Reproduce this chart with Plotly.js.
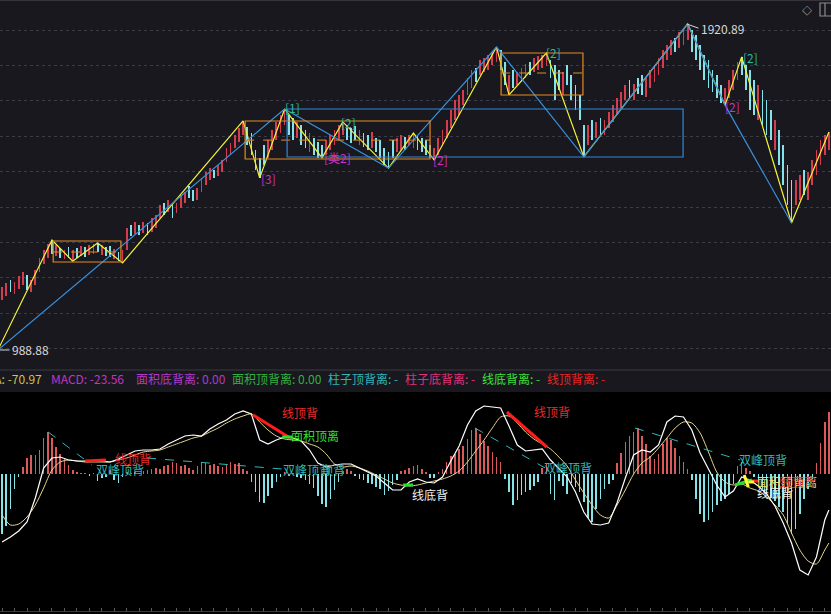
<!DOCTYPE html>
<html><head><meta charset="utf-8">
<script src="https://cdn.plot.ly/plotly-3.0.1.min.js"></script>
<style>html,body{margin:0;padding:0;background:#18181e;}#chart{width:831px;height:614px;}</style>
</head><body><div id="chart"></div>
<script>
// ---- price bars (index 0..199) ----
const hi = [1169,1180,1189,1183,1200,1212,1203,1189,1218,1252,
1275,1292,1303,1289,1280,1275,1283,1275,1280,1286,
1283,1289,1292,1295,1289,1283,1286,1278,1269,1275,
1338,1346,1355,1346,1355,1352,1366,1375,1403,1409,
1418,1403,1409,1432,1441,1458,1446,1452,1481,1498,
1509,1504,1518,1532,1566,1581,1604,1624,1644,1626,
1609,1561,1538,1575,1589,1618,1641,1661,1678,1661,
1652,1641,1632,1618,1609,1595,1584,1575,1589,1604,
1618,1632,1641,1632,1624,1629,1618,1609,1604,1612,
1595,1589,1566,1555,1589,1595,1604,1598,1604,1609,
1604,1595,1589,1575,1566,1595,1618,1646,1675,1704,
1718,1732,1767,1789,1795,1818,1824,1832,1841,1855,
1847,1812,1775,1789,1784,1795,1807,1812,1824,1829,
1832,1838,1818,1804,1789,1784,1804,1775,1747,1718,
1632,1632,1646,1641,1652,1646,1669,1689,1709,1727,
1747,1761,1749,1767,1775,1767,1789,1804,1824,1847,
1861,1875,1881,1898,1909,1921,1904,1889,1861,1832,
1818,1789,1775,1747,1738,1761,1789,1812,1827,1804,
1789,1761,1747,1732,1704,1675,1646,1618,1575,1518,
1475,1475,1489,1504,1498,1532,1561,1589,1604,1612];
const lo = [1132,1143,1155,1149,1163,1175,1160,1155,1175,1212,
1235,1252,1263,1258,1252,1249,1252,1243,1252,1258,
1255,1260,1263,1269,1260,1258,1255,1249,1243,1238,
1275,1315,1320,1318,1323,1318,1326,1338,1366,1375,
1383,1366,1381,1395,1409,1423,1415,1418,1441,1461,
1475,1481,1486,1498,1526,1546,1566,1584,1604,1575,
1546,1504,1481,1518,1538,1561,1589,1609,1632,1604,
1589,1595,1575,1566,1555,1546,1538,1538,1546,1561,
1575,1589,1604,1589,1581,1589,1575,1569,1561,1566,
1555,1538,1518,1509,1538,1555,1561,1561,1575,1566,
1561,1555,1546,1538,1532,1546,1575,1595,1624,1646,
1661,1689,1718,1738,1755,1775,1784,1789,1804,1812,
1789,1747,1718,1738,1747,1755,1767,1775,1784,1789,
1795,1801,1767,1704,1732,1718,1747,1704,1675,1646,
1541,1575,1589,1595,1604,1604,1624,1641,1661,1681,
1704,1709,1704,1721,1718,1712,1738,1755,1775,1795,
1818,1832,1841,1852,1861,1875,1841,1818,1789,1761,
1738,1727,1709,1695,1689,1709,1732,1761,1775,1732,
1675,1661,1646,1632,1604,1589,1561,1518,1461,1403,
1352,1403,1418,1432,1418,1461,1489,1518,1546,1561];
const dir = "rrcrrrcrrr"+"rrcrcrcrcr"+"crrcrccrcr"+"rcrcrcrrrc"+"rcrrrccrrr"+
            "rcrrrrrrrc"+"ccccrrrrrc"+"crccrcccrr"+"rrrcccrccr"+"cccccrrcrr"+
            "ccccrrrrrr"+"rrrrcrrrrr"+"ccrcrrrcrr"+"rrcccrcccc"+"crcrcrrrrr"+
            "rcrccrrrrr"+"rrcrrrcccc"+"ccccrrrrcc"+"ccrcccrccc"+"crrcrrrrrr";

// ---- zigzag pivots ----
const zzYellowIdx = [-1,12,17,23,29,58,62,68,77,82,93,99,104,119,122,131,140,165,174,178,190,199];
const zzYellowPx  = [988.88,1303,1243,1295,1238,1644,1481,1678,1538,1641,1509,1609,1532,1855,1718,1838,1541,1920.89,1689,1827,1352,1612];
const zzBlueIdx = [-1,68,93,119,140,165,174,190];
const zzBluePx  = [988.88,1678,1509,1855,1541,1920.89,1689,1352];

// ---- boxes ----
const oBoxX0 = [12.3,58.5,120.1], oBoxX1 = [28.6,103,139.8];
const oBoxTop = [1300.5,1643.6,1838], oBoxBot = [1240.5,1534.9,1717.9], oBoxMid = [1269,1589,1780.8];
const bBoxX0 = [68.6], bBoxX1 = [163.9], bBoxTop = [1677.9], bBoxBot = [1540.6];

// ---- wave labels ----
const waveText = ['[3]','[1]','[2]','[类2]','[2]','[2]','[2]','[2]'];
const waveIdx  = [64,69.8,83.3,80.8,105.6,132.8,180.2,175.9];
const wavePx   = [1480.6,1683.6,1640.7,1537.8,1532.1,1840.8,1826.5,1686.4];
const waveKind = ['m','t','t','m','m','t','t','m'];

// ---- MACD ----
const hist = [-60,-52,-35,-15,-3,7,16,19,19,24,
36,42,36,27,20,15,9,4,2,1,
1,-2,1,-7,-4,-3,4,-6,-9,-3,
2,1,2,1,3,4,5,6,5,8,
9,12,11,8,9,6,4,8,12,11,
9,10,8,7,10,12,10,11,5,3,
-8,-18,-28,-29,-22,-14,-8,-3,2,-2,
1,-3,-4,-6,-10,-14,-22,-30,-33,-25,
-16,-8,3,5,3,-2,-5,-6,-9,-10,
-13,-15,-21,-17,-11,-6,3,4,6,8,
9,5,2,-4,-4,2,5,12,18,20,
25,28,35,44,46,40,33,28,22,17,
12,-5,-18,-31,-26,-21,-18,-16,-12,-8,
6,10,-20,-26,-7,-12,-20,-9,-13,-18,
-28,-44,-48,-35,-25,-15,-10,-6,11,21,
32,38,42,46,38,30,18,15,20,30,
36,34,26,18,12,5,-6,-25,-40,-48,
-46,-38,-31,-27,-25,-20,-10,8,12,6,
3,-3,-8,-15,-20,-24,-27,-33,-38,-50,
-60,-55,-40,-25,-15,-5,11,31,52,62];
// DIF / DEA sampled at bars 0,2,4,...,198 and the last bar 199
const dif = [-68,-63,-57,-48,-24,6,16,17,14,13,
13,13,13,12,15,19,23,24,24,25,
30,34,38,39,38,45,50,54,60,63,
60,34,30,34,37,36,33,24,11,7,
9,10,10,6,2,-2,-9,-16,-16,-8,
-5,-8,-9,-3,13,28,49,63,68,67,
66,48,29,23,24,25,14,5,-3,-18,
-38,-50,-51,-49,-29,-4,19,24,22,29,
52,58,57,44,21,5,-11,-23,-17,-3,
-6,-12,-20,-32,-49,-69,-96,-101,-83,-46,-36];
const dea = [-41,-51,-50,-43,-31,-14,4,12,14,13,
12,12,12,12,14,16,19,22,23,24,
27,30,33,36,38,42,46,51,55,58,
60,52,44,38,35,34,33,30,27,20,
10,7,8,6,3,-1,-5,-9,-11,-12,
-11,-9,-7,-5,-2,3,12,23,34,46,
57,58,51,42,35,30,25,17,8,-6,
-19,-31,-41,-44,-31,-16,0,11,17,26,
36,46,52,51,41,22,2,-8,-11,-10,
-14,-17,-23,-31,-41,-59,-76,-87,-90,-76,-69];

// divergence marks in MACD panel: [x0, v0, x1, v1]
const redSegs   = [[20,13,25,14],[60.4,59,69.3,36],[121.5,62,131.1,27],[180.5,-7,182.2,-7]];
const greenSegs = [[67.4,37,69.8,37],[96.5,-11,98.9,-11],[176.4,-11,180.5,-6]];
const cyanDash  = [[11.1,42,21.6,9],[34.9,16,67.4,5],[113.8,46,130.7,6],[152.3,46,177.6,14]];
const yellowSegs= [[178.6,-1,179.6,-13],[179.6,-8,181,-8]];

const macdText = ['双峰顶背','线顶背','线顶背','面积顶离','双峰顶背','顶背','线底背','线顶背','双峰顶背','双峰顶背','面积顶背离','线顶背','线底背'];
const macdIdx  = [28.4,31.5,71.7,75.3,73.4,79.6,103,132.4,136.2,183.1,188.9,191.6,186];
const macdVal  = [4,15,61,38,4,4,-21,62,6,14,-8,-8,-19];
const macdKind = ['c','r','r','g','c','c','w','r','c','c','y','r','w'];

// header strip
const stripText = ['DEA: -70.97','MACD: -23.56','面积底背离: 0.00','面积顶背离: 0.00','柱子顶背离: -','柱子底背离: -','线底背离: -','线顶背离: -'];
const stripColor = ['#d6c04c','#c434c4','#b23ac8','#34b040','#30b4b8','#e0307c','#3ce03c','#e82424'];

// ---------------- build ----------------
const W = 831, H = 614;
const RED = '#d43c50', CYAN = '#84e2ea';
const idx = hi.map((_, k) => k);
const lineIdx = dif.map((_, k) => Math.min(2 * k, 199));
const FONT = '"Noto Sans CJK SC", "Noto Sans", sans-serif';

const traces = [];
traces.push({type:'bar', x: idx, base: lo, y: hi.map((h, k) => h - lo[k]), width: 0.42,
  marker:{color: dir.split('').map(c => c === 'r' ? RED : CYAN), line:{width:0}},
  xaxis:'x', yaxis:'y', hoverinfo:'skip'});
traces.push({type:'scatter', mode:'lines', x: zzYellowIdx, y: zzYellowPx, line:{color:'#f4f43c', width:1.2}, xaxis:'x', yaxis:'y', hoverinfo:'skip'});
traces.push({type:'scatter', mode:'lines', x: zzBlueIdx, y: zzBluePx, line:{color:'#3a90dc', width:1.2}, xaxis:'x', yaxis:'y', hoverinfo:'skip'});
traces.push({type:'bar', x: idx, y: hist, width: 0.38,
  marker:{color: hist.map(v => v >= 0 ? '#d85a5a' : '#86e4e8'), line:{width:0}},
  xaxis:'x2', yaxis:'y2', hoverinfo:'skip'});
traces.push({type:'scatter', mode:'lines', x: lineIdx, y: dea, line:{color:'#e6d68a', width:1, shape:'spline', smoothing:0.8}, xaxis:'x2', yaxis:'y2', hoverinfo:'skip'});
traces.push({type:'scatter', mode:'lines', x: lineIdx, y: dif, line:{color:'#ffffff', width:1.2}, xaxis:'x2', yaxis:'y2', hoverinfo:'skip'});

const shapes = [];
// black MACD background
shapes.push({type:'rect', xref:'paper', yref:'paper', x0:0, x1:1, y0:0, y1:1 - 392/H, fillcolor:'#000000', line:{width:0}, layer:'below'});
// separator line
shapes.push({type:'line', xref:'paper', yref:'paper', x0:0, x1:1, y0:1 - 370/H, y1:1 - 370/H, line:{color:'#3a3a42', width:1}});
shapes.push({type:'line', xref:'paper', yref:'paper', x0:0, x1:1, y0:1 - 0.5/H, y1:1 - 0.5/H, line:{color:'#34343c', width:1}});
// top-right icon
shapes.push({type:'rect', xref:'paper', yref:'paper', x0:820/W, x1:834/W, y0:1 - 16/H, y1:1 - 3/H, line:{color:'#8a8a90', width:1.2}});
shapes.push({type:'line', xref:'paper', yref:'paper', x0:825/W, x1:825/W, y0:1 - 16/H, y1:1 - 3/H, line:{color:'#8a8a90', width:1.2}});
for (let k = 0; k < oBoxX0.length; k++) {
  shapes.push({type:'rect', xref:'x', yref:'y', x0:oBoxX0[k], x1:oBoxX1[k], y0:oBoxBot[k], y1:oBoxTop[k], line:{color:'#e48a22', width:1.2}});
  shapes.push({type:'line', xref:'x', yref:'y', x0:oBoxX0[k], x1:oBoxX1[k], y0:oBoxMid[k], y1:oBoxMid[k], line:{color:'#e48a22', width:1, dash:'dash'}});
}
for (let k = 0; k < bBoxX0.length; k++) {
  shapes.push({type:'rect', xref:'x', yref:'y', x0:bBoxX0[k], x1:bBoxX1[k], y0:bBoxBot[k], y1:bBoxTop[k], line:{color:'#2e8ad8', width:1.2}});
}
// price marker lines
shapes.push({type:'line', xref:'x', yref:'y', x0:-0.5, x1:1.8, y0:988.88, y1:988.88, line:{color:'#d8d8d8', width:1}});
shapes.push({type:'line', xref:'x', yref:'y', x0:164.8, x1:167.6, y0:1920.89, y1:1909, line:{color:'#d8d8d8', width:1}});
const seg = (s, color, width, dash) => shapes.push({type:'line', xref:'x2', yref:'y2', x0:s[0], y0:s[1], x1:s[2], y1:s[3], line:{color, width, dash: dash || 'solid'}});
cyanDash.forEach(s => seg(s, '#2fb8b8', 1, 'dash'));
redSegs.forEach(s => seg(s, '#ff1c1c', 3));
greenSegs.forEach(s => seg(s, '#28e028', 3));
yellowSegs.forEach(s => seg(s, '#ffff30', 3));

const annotations = [];
const waveColor = {m:'#c832c8', t:'#2cb8a2'};
waveText.forEach((t, k) => annotations.push({xref:'x', yref:'y', x: waveIdx[k], y: wavePx[k], text: t, showarrow:false,
  font:{family:FONT, size:12, color: waveColor[waveKind[k]]}, xanchor:'center', yanchor:'middle'}));
annotations.push({xref:'x', yref:'y', x:167.7, y:1909, text:'1920.89', showarrow:false, xanchor:'left', yanchor:'middle', font:{family:FONT, size:12, color:'#d8d8d8'}});
annotations.push({xref:'x', yref:'y', x:1.9, y:988.88, text:'988.88', showarrow:false, xanchor:'left', yanchor:'middle', font:{family:FONT, size:12, color:'#d8d8d8'}});
annotations.push({xref:'paper', yref:'paper', x:807/W, y:1 - 9/H, text:'◇', showarrow:false, xanchor:'center', yanchor:'middle', font:{family:'DejaVu Sans', size:13, color:'#8a8a90'}});
const macdColor = {c:'#30b8b8', r:'#e82a2a', g:'#30e030', w:'#f0f0f0', y:'#e8e070'};
macdText.forEach((t, k) => annotations.push({xref:'x2', yref:'y2', x: macdIdx[k], y: macdVal[k], text: t, showarrow:false,
  font:{family:FONT, size:12, color: macdColor[macdKind[k]]}, xanchor:'center', yanchor:'middle'}));
const stripLeft = [44, 49, 134, 230, 326, 403, 480, 545];
stripText.forEach((t, k) => annotations.push({xref:'paper', yref:'paper', x: stripLeft[k] / W, y: 1 - 378.5/H, text: t, showarrow:false,
  xanchor: k === 0 ? 'right' : 'left', yanchor:'middle', font:{family:FONT, size:12, color: stripColor[k]}}));

const layout = {
  width: W, height: H, margin:{l:0, r:0, t:0, b:0, pad:0},
  paper_bgcolor:'#18181e', plot_bgcolor:'rgba(0,0,0,0)', showlegend:false,
  bargap: 0,
  xaxis:{domain:[0,1], range:[-0.5,199.5], showgrid:false, zeroline:false, showticklabels:false, ticks:'', fixedrange:true},
  yaxis:{domain:[1 - 368/H, 1], range:[937.4,1989.5], showgrid:true, gridcolor:'#3c3c46', griddash:'dot', gridwidth:1,
         tick0:1903.7, dtick:101.2, tickmode:'linear', showticklabels:false, zeroline:false, ticks:'', fixedrange:true},
  xaxis2:{domain:[0,1], anchor:'y2', range:[-0.5,199.5], showgrid:false, zeroline:false, showticklabels:false,
          showline:true, linecolor:'#3a3a3a', ticks:'inside', ticklen:3, tickcolor:'#5a5a5a', tick0:0, dtick:3, fixedrange:true},
  yaxis2:{domain:[1 - 611/H, 1 - 392/H], range:[-137,82], showgrid:false, zeroline:false, showticklabels:false, ticks:'', fixedrange:true},
  shapes, annotations
};
Plotly.newPlot('chart', traces, layout, {staticPlot:true, displayModeBar:false});
</script>
</body></html>
